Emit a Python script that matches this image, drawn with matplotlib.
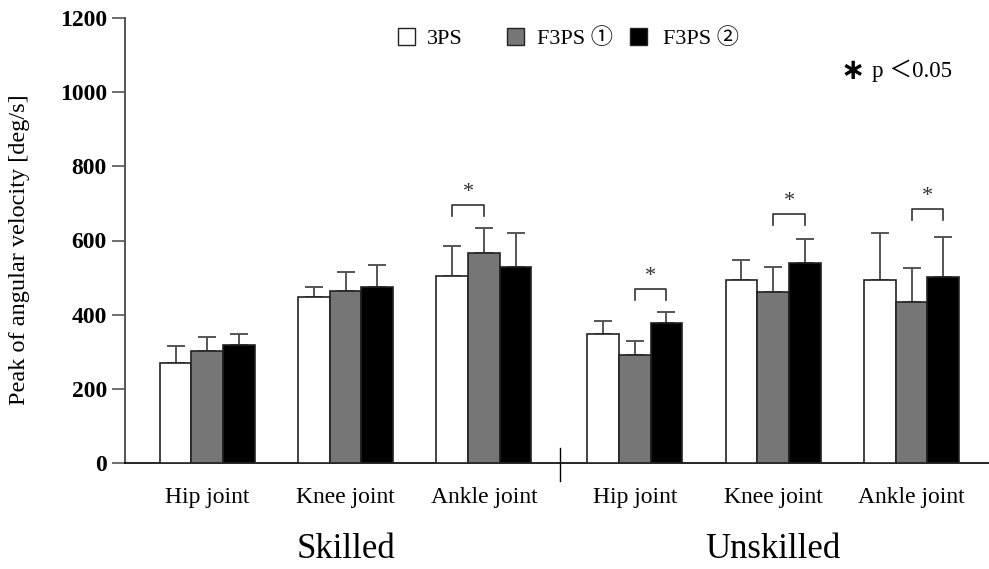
import matplotlib
matplotlib.use("Agg")
import matplotlib.pyplot as plt
from matplotlib.patches import Rectangle
import numpy as np

plt.rcParams['font.family'] = ['Liberation Serif', 'Noto Sans CJK JP', 'DejaVu Sans']

joints = ["Hip joint", "Knee joint", "Ankle joint", "Hip joint", "Knee joint", "Ankle joint"]
groups = ["Skilled", "Unskilled"]
series_names = ["3PS", "F3PS \u2460", "F3PS \u2461"]

mean_3ps = [269, 447, 504, 348, 494, 494]
mean_f1 = [303, 465, 567, 290, 462, 435]
mean_f2 = [318, 475, 528, 377, 540, 501]
sd_3ps = [47, 28, 81, 35, 53, 125]
sd_f1 = [36, 50, 67, 40, 66, 91]
sd_f2 = [30, 58, 93, 30, 65, 108]

# significance brackets: (joint index, series a, series b, bracket top value)
sig = [(2, 0, 1, 696), (3, 1, 2, 470), (4, 1, 2, 671), (5, 1, 2, 685)]

means = [mean_3ps, mean_f1, mean_f2]
sds = [sd_3ps, sd_f1, sd_f2]
colors = ["white", "#767676", "black"]

fig = plt.figure(figsize=(9.89, 5.69), dpi=100)
ax = fig.add_axes([125/989, 1-463/569, 1-125/989, (463-18)/569])

centers = np.array([0, 1, 2, 3.09, 4.09, 5.09])
w = 0.229
for i in range(3):
    xs = centers + (i - 1) * w
    ax.bar(xs, means[i], width=w, color=colors[i], edgecolor="#222222", linewidth=1.2, zorder=3)
    ax.errorbar(xs, means[i], yerr=[np.zeros(6), sds[i]], fmt='none', ecolor="#555555",
                elinewidth=1.4, capsize=6.5, capthick=1.4, zorder=2)

for j, a, b, top in sig:
    xa = centers[j] + (a - 1) * w
    xb = centers[j] + (b - 1) * w
    ax.plot([xa, xa, xb, xb], [top - 30, top, top, top - 30], color="#333333", lw=1.2, zorder=4)
    ax.text((xa + xb) / 2, top + 8, "*", ha="center", va="bottom", fontsize=16, color="#333333")

ax.set_ylim(0, 1200)
ax.set_xlim(-0.594, 5.65)
ax.set_yticks(range(0, 1201, 200))
ax.set_yticklabels([str(v) for v in range(0, 1201, 200)], fontsize=17, fontweight="bold")
ax.tick_params(axis='y', direction='out', length=9.5, width=1.2, color="#555555", pad=3.5)
ax.set_xticks(centers)
ax.set_xticklabels(joints, fontsize=17)
ax.tick_params(axis='x', length=0, pad=17)
for s in ["top", "right"]:
    ax.spines[s].set_visible(False)
ax.spines["left"].set_color("#555555")
ax.spines["left"].set_linewidth(1.4)
ax.spines["bottom"].set_linewidth(1.2)

fig.text(20/989, 1-250/569, "Peak of angular velocity [deg/s]", fontsize=17.5, rotation=90,
         ha="center", va="center")

# divider between groups
xdiv = (centers[2] + centers[3]) / 2 + 0.007
ax.plot([xdiv, xdiv], [40, -48], color="black", lw=1.0, clip_on=False)

ax.text(np.mean(centers[:3]), -233, groups[0], ha="center", va="center", fontsize=25)
ax.text(np.mean(centers[3:]), -233, groups[1], ha="center", va="center", fontsize=25)

# legend (manual placement)
sq_x = [398, 507, 630]
txt_x = [427, 537, 663]
ly = 36.5
for c, sx, tx, name in zip(colors, sq_x, txt_x, series_names):
    fig.patches.append(Rectangle((sx/989, 1-(ly+8.5)/569), 17/989, 17/569, facecolor=c,
                                 edgecolor="#222222", linewidth=1.0, transform=fig.transFigure))
    fig.text(tx/989, 1-43.5/569, name, fontsize=16, ha="left", va="baseline")

fig.text(853/989, 1-71/569, "\u2217", fontsize=21, fontweight="bold", ha="center", va="center",
         family=['DejaVu Sans'])
fig.text(872/989, 1-77/569, "p \uff1c0.05", fontsize=16.5, ha="left", va="baseline")

fig.savefig("out.png", dpi=100)
